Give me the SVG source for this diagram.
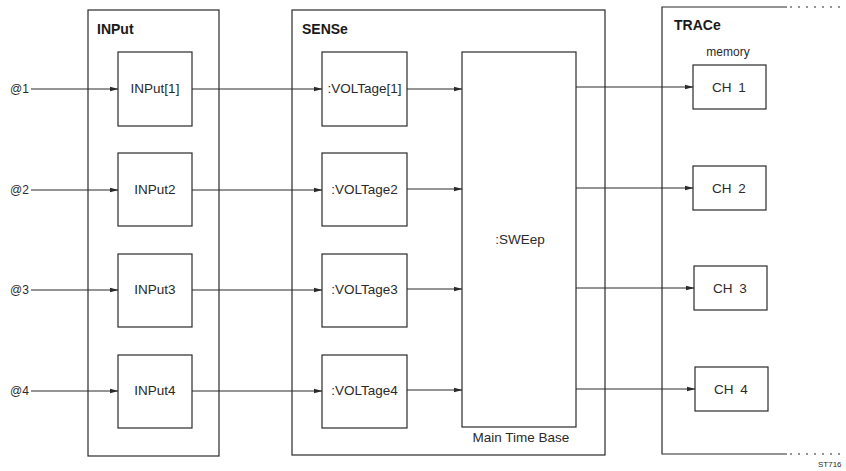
<svg xmlns="http://www.w3.org/2000/svg" width="846" height="471" viewBox="0 0 846 471">
<style>
.frame{fill:none;stroke:#2a2a2a;stroke-width:1.2}
.box{fill:#fff;stroke:#2a2a2a;stroke-width:1.2}
.title{font-family:"Liberation Sans",Arial,sans-serif;font-weight:bold;font-size:14px;fill:#1a1a1a}
.lbl{font-family:"Liberation Sans",Arial,sans-serif;font-size:13.5px;fill:#2a2a2a}
.sm{font-family:"Liberation Sans",Arial,sans-serif;font-size:12px;fill:#2a2a2a}
.conn{fill:none;stroke:#2a2a2a;stroke-width:1;marker-end:url(#ah)}
.dash{fill:none;stroke:#2a2a2a;stroke-width:1.2;stroke-dasharray:2 6}
</style>
<defs>
<marker id="ah" markerWidth="9" markerHeight="6" refX="8.5" refY="3" orient="auto" markerUnits="userSpaceOnUse">
<path d="M0,0.5 L9,3 L0,5.5 z" fill="#2a2a2a"/>
</marker>
</defs>
<rect width="846" height="471" fill="#fff"/>

<g id="input-group">
<rect class="frame" x="88" y="10" width="131" height="446"/>
<text class="title" x="97" y="34">INPut</text>
</g>
<g id="sense-group">
<rect class="frame" x="292" y="10" width="313" height="445"/>
<text class="title" x="302" y="34">SENSe</text>
</g>
<g id="trace-group">
<path class="frame" d="M787,7 L662,7 L662,454 L787,454"/>
<path class="dash" d="M790,7 L840,7 M790,454 L840,454"/>
<text class="title" x="674" y="30">TRACe</text>
<text class="sm" x="728" y="56" text-anchor="middle">memory</text>
</g>

<g id="in1"><rect class="box" x="118" y="52" width="74" height="74"/><text class="lbl" x="155" y="93" text-anchor="middle">INPut[1]</text></g>
<g id="in2"><rect class="box" x="118" y="153" width="74" height="73"/><text class="lbl" x="155" y="194" text-anchor="middle">INPut2</text></g>
<g id="in3"><rect class="box" x="118" y="254" width="74" height="73"/><text class="lbl" x="155" y="294" text-anchor="middle">INPut3</text></g>
<g id="in4"><rect class="box" x="118" y="355" width="74" height="73"/><text class="lbl" x="155" y="395" text-anchor="middle">INPut4</text></g>

<g id="v1"><rect class="box" x="322" y="52" width="85" height="74"/><text class="lbl" x="364.5" y="93" text-anchor="middle">:VOLTage[1]</text></g>
<g id="v2"><rect class="box" x="322" y="153" width="85" height="73"/><text class="lbl" x="364.5" y="194" text-anchor="middle">:VOLTage2</text></g>
<g id="v3"><rect class="box" x="322" y="254" width="85" height="73"/><text class="lbl" x="364.5" y="294" text-anchor="middle">:VOLTage3</text></g>
<g id="v4"><rect class="box" x="322" y="355" width="85" height="73"/><text class="lbl" x="364.5" y="395" text-anchor="middle">:VOLTage4</text></g>

<g id="sweep"><rect class="box" x="462" y="52" width="114" height="375"/><text class="lbl" x="520" y="244" text-anchor="middle">:SWEep</text><text class="lbl" x="521" y="442" text-anchor="middle">Main Time Base</text></g>

<g id="ch1"><rect class="box" x="693" y="65" width="73" height="44"/><text class="lbl" x="729" y="92" text-anchor="middle" word-spacing="3">CH 1</text></g>
<g id="ch2"><rect class="box" x="693" y="166" width="73" height="44"/><text class="lbl" x="729" y="193" text-anchor="middle" word-spacing="3">CH 2</text></g>
<g id="ch3"><rect class="box" x="694" y="266" width="73" height="44"/><text class="lbl" x="730" y="293" text-anchor="middle" word-spacing="3">CH 3</text></g>
<g id="ch4"><rect class="box" x="695" y="367" width="73" height="44"/><text class="lbl" x="731" y="394" text-anchor="middle" word-spacing="3">CH 4</text></g>

<g id="src-labels">
<text class="sm" x="10" y="93">@1</text>
<text class="sm" x="10" y="194">@2</text>
<text class="sm" x="10" y="294">@3</text>
<text class="sm" x="10" y="395">@4</text>
</g>

<g id="connectors">
<path class="conn" d="M31,89 L118,89"/>
<path class="conn" d="M31,190 L118,190"/>
<path class="conn" d="M31,290 L118,290"/>
<path class="conn" d="M31,391 L118,391"/>
<path class="conn" d="M192,89 L322,89"/>
<path class="conn" d="M192,190 L322,190"/>
<path class="conn" d="M192,290 L322,290"/>
<path class="conn" d="M192,391 L322,391"/>
<path class="conn" d="M407,89 L462,89"/>
<path class="conn" d="M407,189 L462,189"/>
<path class="conn" d="M407,289 L462,289"/>
<path class="conn" d="M407,390 L462,390"/>
<path class="conn" d="M576,87 L693,87"/>
<path class="conn" d="M576,188 L693,188"/>
<path class="conn" d="M576,288 L694,288"/>
<path class="conn" d="M576,389 L695,389"/>
</g>

<text x="818" y="467" font-family="Liberation Sans,Arial,sans-serif" font-size="8" fill="#2a2a2a">ST716</text>
</svg>
